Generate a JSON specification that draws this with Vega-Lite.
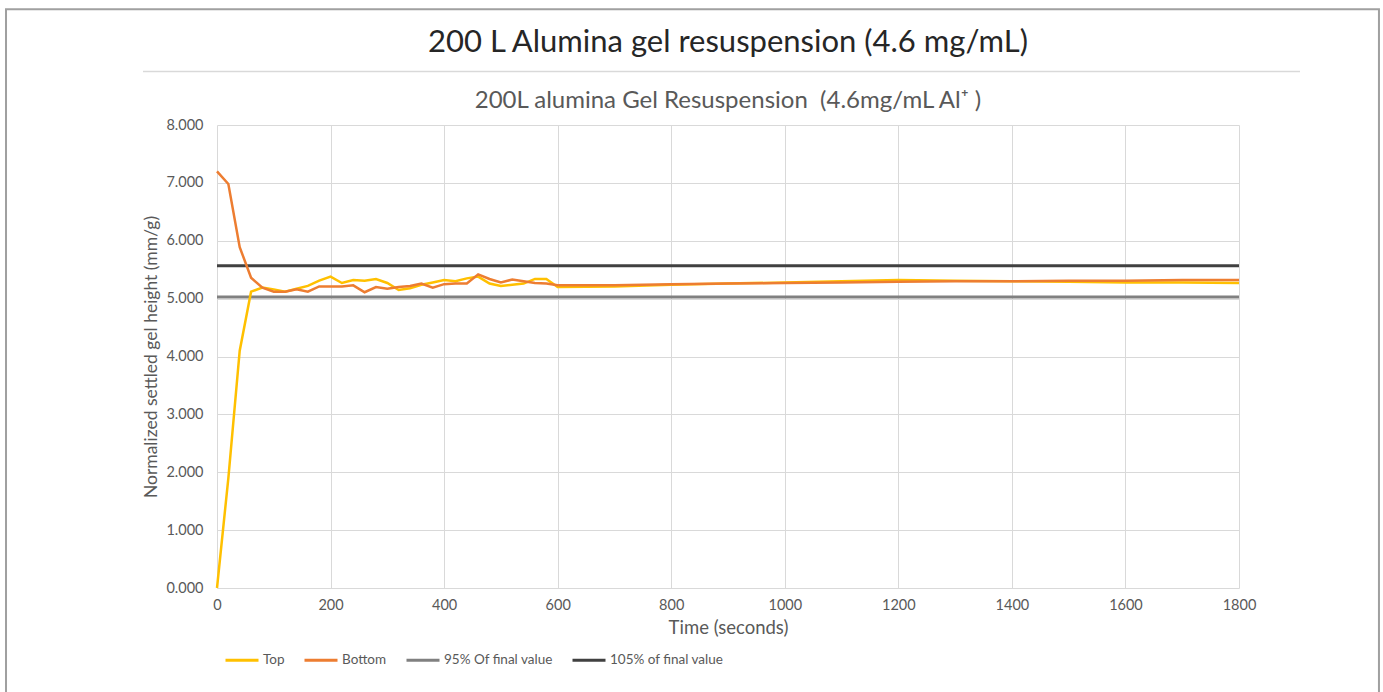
{
  "$schema": "https://vega.github.io/schema/vega-lite/v6.json",
  "width": 1022,
  "height": 463,
  "autosize": {"type": "none"},
  "padding": {"left": 217, "top": 125, "right": 144, "bottom": 104},
  "background": "white",
  "config": {"font": "Lato", "view": {"stroke": null}},
  "title": {
    "text": "200 L Alumina gel resuspension (4.6 mg/mL)",
    "subtitle": "200L alumina Gel Resuspension\u00a0 (4.6mg/mL Al⁺ )",
    "fontSize": 31,
    "fontWeight": "normal",
    "color": "#262626",
    "subtitleFontSize": 24,
    "subtitleColor": "#595959",
    "subtitlePadding": 30,
    "offset": -106,
    "anchor": "middle",
    "frame": "group"
  },
  "data": {
    "values": [
      {"t": 0, "v": 0.0, "s": "Top"}, {"t": 20, "v": 1.9, "s": "Top"}, {"t": 40, "v": 4.1, "s": "Top"},
      {"t": 60, "v": 5.12, "s": "Top"}, {"t": 80, "v": 5.19, "s": "Top"}, {"t": 100, "v": 5.16, "s": "Top"},
      {"t": 120, "v": 5.12, "s": "Top"}, {"t": 140, "v": 5.17, "s": "Top"}, {"t": 160, "v": 5.22, "s": "Top"},
      {"t": 180, "v": 5.31, "s": "Top"}, {"t": 200, "v": 5.38, "s": "Top"}, {"t": 220, "v": 5.27, "s": "Top"},
      {"t": 240, "v": 5.32, "s": "Top"}, {"t": 260, "v": 5.31, "s": "Top"}, {"t": 280, "v": 5.34, "s": "Top"},
      {"t": 300, "v": 5.27, "s": "Top"}, {"t": 320, "v": 5.15, "s": "Top"}, {"t": 340, "v": 5.18, "s": "Top"},
      {"t": 360, "v": 5.24, "s": "Top"}, {"t": 380, "v": 5.28, "s": "Top"}, {"t": 400, "v": 5.32, "s": "Top"},
      {"t": 420, "v": 5.3, "s": "Top"}, {"t": 440, "v": 5.35, "s": "Top"}, {"t": 460, "v": 5.38, "s": "Top"},
      {"t": 480, "v": 5.26, "s": "Top"}, {"t": 500, "v": 5.22, "s": "Top"}, {"t": 520, "v": 5.24, "s": "Top"},
      {"t": 540, "v": 5.26, "s": "Top"}, {"t": 560, "v": 5.34, "s": "Top"}, {"t": 580, "v": 5.34, "s": "Top"},
      {"t": 600, "v": 5.2, "s": "Top"}, {"t": 700, "v": 5.21, "s": "Top"}, {"t": 800, "v": 5.24, "s": "Top"},
      {"t": 900, "v": 5.26, "s": "Top"}, {"t": 1000, "v": 5.28, "s": "Top"}, {"t": 1100, "v": 5.3, "s": "Top"},
      {"t": 1200, "v": 5.32, "s": "Top"}, {"t": 1300, "v": 5.31, "s": "Top"}, {"t": 1400, "v": 5.3, "s": "Top"},
      {"t": 1500, "v": 5.29, "s": "Top"}, {"t": 1600, "v": 5.28, "s": "Top"}, {"t": 1700, "v": 5.28, "s": "Top"},
      {"t": 1800, "v": 5.27, "s": "Top"},
      {"t": 0, "v": 7.2, "s": "Bottom"}, {"t": 20, "v": 6.98, "s": "Bottom"}, {"t": 40, "v": 5.89, "s": "Bottom"},
      {"t": 60, "v": 5.36, "s": "Bottom"}, {"t": 80, "v": 5.19, "s": "Bottom"}, {"t": 100, "v": 5.12, "s": "Bottom"},
      {"t": 120, "v": 5.12, "s": "Bottom"}, {"t": 140, "v": 5.16, "s": "Bottom"}, {"t": 160, "v": 5.12, "s": "Bottom"},
      {"t": 180, "v": 5.21, "s": "Bottom"}, {"t": 200, "v": 5.21, "s": "Bottom"}, {"t": 220, "v": 5.21, "s": "Bottom"},
      {"t": 240, "v": 5.23, "s": "Bottom"}, {"t": 260, "v": 5.11, "s": "Bottom"}, {"t": 280, "v": 5.2, "s": "Bottom"},
      {"t": 300, "v": 5.17, "s": "Bottom"}, {"t": 320, "v": 5.2, "s": "Bottom"}, {"t": 340, "v": 5.22, "s": "Bottom"},
      {"t": 360, "v": 5.26, "s": "Bottom"}, {"t": 380, "v": 5.19, "s": "Bottom"}, {"t": 400, "v": 5.25, "s": "Bottom"},
      {"t": 420, "v": 5.26, "s": "Bottom"}, {"t": 440, "v": 5.26, "s": "Bottom"}, {"t": 460, "v": 5.42, "s": "Bottom"},
      {"t": 480, "v": 5.34, "s": "Bottom"}, {"t": 500, "v": 5.28, "s": "Bottom"}, {"t": 520, "v": 5.33, "s": "Bottom"},
      {"t": 540, "v": 5.3, "s": "Bottom"}, {"t": 560, "v": 5.27, "s": "Bottom"}, {"t": 580, "v": 5.26, "s": "Bottom"},
      {"t": 600, "v": 5.23, "s": "Bottom"}, {"t": 700, "v": 5.23, "s": "Bottom"}, {"t": 800, "v": 5.25, "s": "Bottom"},
      {"t": 900, "v": 5.26, "s": "Bottom"}, {"t": 1000, "v": 5.27, "s": "Bottom"}, {"t": 1100, "v": 5.28, "s": "Bottom"},
      {"t": 1200, "v": 5.29, "s": "Bottom"}, {"t": 1300, "v": 5.3, "s": "Bottom"}, {"t": 1400, "v": 5.3, "s": "Bottom"},
      {"t": 1500, "v": 5.31, "s": "Bottom"}, {"t": 1600, "v": 5.31, "s": "Bottom"}, {"t": 1700, "v": 5.32, "s": "Bottom"},
      {"t": 1800, "v": 5.32, "s": "Bottom"},
      {"t": 0, "v": 5.03, "s": "95% Of final value"}, {"t": 1800, "v": 5.03, "s": "95% Of final value"},
      {"t": 0, "v": 5.57, "s": "105% of final value"}, {"t": 1800, "v": 5.57, "s": "105% of final value"}
    ]
  },
  "layer": [
    {
      "data": {"values": [{}]},
      "mark": {"type": "rect", "fill": "transparent", "stroke": "#a0a0a0", "strokeWidth": 2},
      "encoding": {
        "x": {"datum": -371.6, "type": "quantitative"},
        "x2": {"datum": 2046.5},
        "y": {"datum": 10.0, "type": "quantitative"},
        "y2": {"datum": -3}
      }
    },
    {
      "data": {"values": [{}]},
      "mark": {"type": "rule", "stroke": "#d9d9d9", "strokeWidth": 1.5},
      "encoding": {
        "x": {"datum": -130.3, "type": "quantitative"},
        "x2": {"datum": 1907.4},
        "y": {"datum": 8.925, "type": "quantitative"}
      }
    },
    {
      "transform": [{"filter": "datum.s !== 'Top' && datum.s !== 'Bottom'"}],
      "mark": {"type": "line", "strokeWidth": 3},
      "encoding": {
        "x": {"field": "t", "type": "quantitative"},
        "y": {"field": "v", "type": "quantitative"},
        "color": {"field": "s", "type": "nominal"}
      }
    },
    {
      "transform": [{"filter": "datum.s === 'Top' || datum.s === 'Bottom'"}],
      "mark": {"type": "line", "strokeWidth": 2.5},
      "encoding": {
        "x": {
          "field": "t", "type": "quantitative",
          "scale": {"domain": [0, 1800], "nice": false, "zero": false},
          "axis": {
            "title": "Time (seconds)",
            "values": [0, 200, 400, 600, 800, 1000, 1200, 1400, 1600, 1800],
            "format": "d",
            "grid": true, "gridColor": "#d9d9d9", "gridWidth": 1,
            "domain": false, "ticks": false, "tickSize": 0,
            "labelFontSize": 14.5, "labelColor": "#595959", "labelPadding": 10, "labelFlush": false,
            "titleFontSize": 18.5, "titleFontWeight": "normal", "titleColor": "#595959", "titlePadding": 7
          }
        },
        "y": {
          "field": "v", "type": "quantitative",
          "scale": {"domain": [0, 8], "nice": false},
          "axis": {
            "title": "Normalized settled gel height (mm/g)",
            "values": [0, 1, 2, 3, 4, 5, 6, 7, 8],
            "format": ".3f",
            "grid": true, "gridColor": "#d9d9d9", "gridWidth": 1,
            "domain": false, "ticks": false, "tickSize": 0,
            "labelFontSize": 14.5, "labelColor": "#595959", "labelPadding": 14, "labelFlush": false,
            "titleFontSize": 17.5, "titleFontWeight": "normal", "titleColor": "#595959", "titlePadding": 5
          }
        },
        "color": {
          "field": "s", "type": "nominal",
          "scale": {
            "domain": ["Top", "Bottom", "95% Of final value", "105% of final value"],
            "range": ["#FFC000", "#ED7D31", "#808080", "#404040"]
          },
          "legend": {
            "orient": "bottom", "direction": "horizontal", "title": null,
            "symbolType": "stroke", "symbolSize": 1089, "symbolStrokeWidth": 3,
            "labelFontSize": 13.5, "labelColor": "#595959", "labelOffset": 3,
            "columnPadding": 13, "offset": -2, "padding": 7
          }
        }
      }
    }
  ]
}
